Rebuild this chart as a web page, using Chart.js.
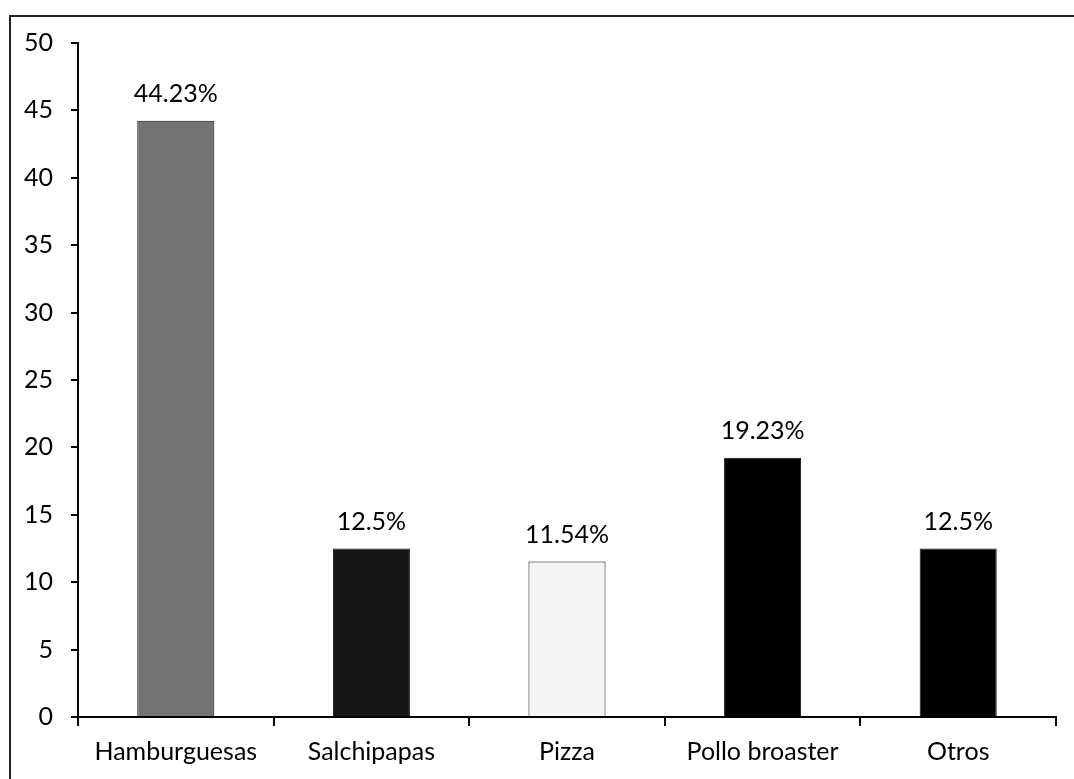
<!DOCTYPE html>
<html>
<head>
<meta charset="utf-8">
<script src="https://cdn.jsdelivr.net/npm/chart.js@4.4.0/dist/chart.umd.min.js"></script>
<style>
    html, body { margin: 0; padding: 0; background: #fff; }
    #wrap { position: relative; width: 1074px; height: 779px; }
    #frame {
        position: absolute; left: 9px; top: 15px; right: 0; bottom: 0;
        border-left: 2px solid #222; border-top: 2px solid #222;
    }
    #chart { position: absolute; left: 0; top: 0; }
</style>
</head>
<body>
<div id="wrap">
    <div id="frame"></div>
    <canvas id="chart" width="1074" height="779"></canvas>
</div>
<script>
const categories = ['Hamburguesas', 'Salchipapas', 'Pizza', 'Pollo broaster', 'Otros'];
const values = [44.23, 12.5, 11.54, 19.23, 12.5];
const valueLabels = ['44.23%', '12.5%', '11.54%', '19.23%', '12.5%'];
const barColors = ['#727272', '#161616', '#f5f5f5', '#000000', '#000000'];

const FONT = 'Lato, "Open Sans", sans-serif';

// Draw the percentage text above each bar
const valueLabelPlugin = {
    id: 'valueLabels',
    afterDatasetsDraw(chart) {
        const ctx = chart.ctx;
        const meta = chart.getDatasetMeta(0);
        ctx.save();
        ctx.font = '25px ' + FONT;
        ctx.fillStyle = '#000';
        ctx.textAlign = 'center';
        ctx.textBaseline = 'middle';
        meta.data.forEach((bar, i) => {
            ctx.fillText(valueLabels[i], bar.x, bar.y - 27);
        });
        ctx.restore();
    }
};

document.addEventListener('DOMContentLoaded', function() {
    const ctx = document.getElementById('chart').getContext('2d');

    new Chart(ctx, {
        type: 'bar',
        data: {
            labels: categories,
            datasets: [{
                data: values,
                backgroundColor: barColors,
                borderColor: '#111',
                borderWidth: 1,
                categoryPercentage: 1,
                barPercentage: 0.394
            }]
        },
        options: {
            responsive: false,
            animation: false,
            layout: {
                padding: { left: 0, right: 18, top: 43, bottom: 0 }
            },
            plugins: {
                legend: { display: false },
                tooltip: { enabled: false }
            },
            scales: {
                x: {
                    grid: {
                        display: true,
                        drawOnChartArea: false,
                        drawTicks: true,
                        tickLength: 9,
                        color: '#000',
                        lineWidth: 2
                    },
                    border: { display: true, color: '#000', width: 2 },
                    ticks: {
                        color: '#000',
                        font: { family: FONT, size: 25 },
                        padding: 11,
                        maxRotation: 0
                    },
                    afterFit(scale) { scale.height = 62; }
                },
                y: {
                    min: 0,
                    max: 50,
                    ticks: {
                        stepSize: 5,
                        color: '#000',
                        font: { family: FONT, size: 25 },
                        padding: 18
                    },
                    grid: {
                        display: true,
                        drawOnChartArea: false,
                        drawTicks: true,
                        tickLength: 7,
                        color: '#000',
                        lineWidth: 2
                    },
                    border: { display: true, color: '#000', width: 2 },
                    afterFit(scale) { scale.width = 78; }
                }
            }
        },
        plugins: [valueLabelPlugin]
    });
});
</script>
</body>
</html>
